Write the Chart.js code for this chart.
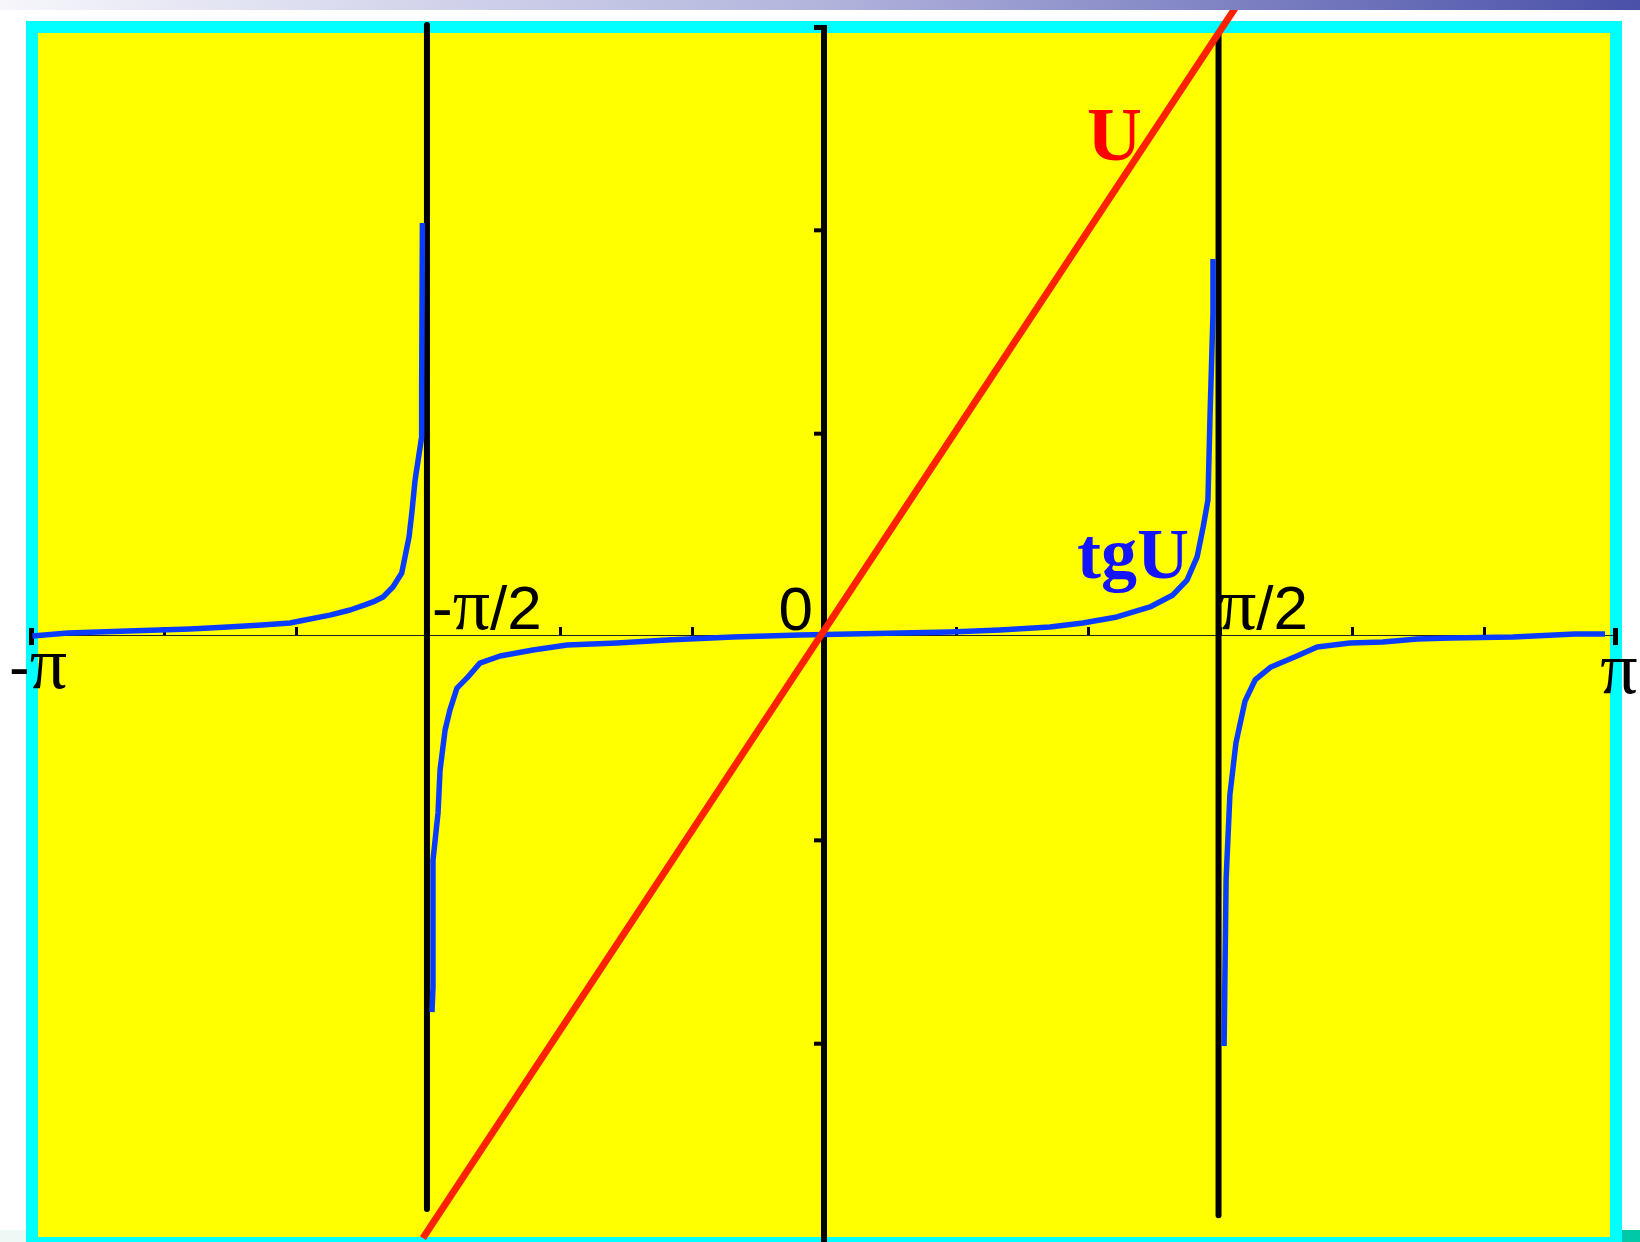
<!DOCTYPE html>
<html>
<head>
<meta charset="utf-8">
<script src="https://cdn.jsdelivr.net/npm/chart.js@4/dist/chart.umd.min.js"></script>
<style>
  html, body { margin: 0; padding: 0; background: #fff; }
  canvas { display: block; }
</style>
</head>
<body>
<canvas id="tgChart" width="1640" height="1242"></canvas>
<script>
const PI = Math.PI;

// x ticks every pi/6, labels only at the main points
const xTickSteps = [-6, -5, -4, -3, -2, -1, 0, 1, 2, 3, 4, 5, 6];
const xLabelValues = [-PI, -PI / 2, 0, PI / 2, PI];
const xLabelTexts = ['-π', '-π/2', '0', 'π/2', 'π'];
const yTickValues = [-2, -1, 1, 2, 3];

// U line
const uLine = [[-1.591, -2.966], [1.645, 3.11]];

// tgU, three branches between the asymptotes
const tgBranch1 = [
    [-3.14, -0.005], [-2.999, 0.010], [-2.761, 0.020], [-2.515, 0.030], [-2.364, 0.039],
    [-2.229, 0.049], [-2.118, 0.059], [-2.079, 0.069], [-1.960, 0.098], [-1.880, 0.123],
    [-1.821, 0.148], [-1.781, 0.167], [-1.749, 0.187], [-1.710, 0.236], [-1.675, 0.305],
    [-1.646, 0.482], [-1.635, 0.600], [-1.622, 0.762], [-1.596, 0.974], [-1.596, 1.190],
    [-1.593, 2.026]
];
const tgBranch2 = [
    [-1.555, -1.854], [-1.551, -1.731], [-1.551, -1.107], [-1.531, -0.875], [-1.523, -0.664],
    [-1.503, -0.467], [-1.484, -0.369], [-1.456, -0.261], [-1.416, -0.211], [-1.365, -0.138],
    [-1.285, -0.103], [-1.154, -0.074], [-1.019, -0.049], [-0.821, -0.039], [-0.623, -0.025],
    [-0.361, -0.010], [-0.095, 0.000], [0.103, 0.005], [0.301, 0.010], [0.500, 0.015],
    [0.698, 0.025], [0.896, 0.039], [1.027, 0.059], [1.162, 0.089], [1.293, 0.138],
    [1.384, 0.197], [1.440, 0.270], [1.480, 0.384], [1.504, 0.531], [1.523, 0.664],
    [1.531, 1.067], [1.543, 1.579], [1.543, 1.849]
];
const tgBranch3 = [
    [1.587, -2.021], [1.595, -1.200], [1.610, -0.787], [1.634, -0.531], [1.670, -0.325],
    [1.710, -0.221], [1.773, -0.157], [1.876, -0.103], [1.956, -0.059], [2.086, -0.039],
    [2.217, -0.034], [2.352, -0.020], [2.483, -0.015], [2.733, -0.010], [2.979, 0.005],
    [3.098, 0.005]
];

// vertical lines at the asymptotes
const asymLeft = [[-1.575, 3.0], [-1.575, -2.823]];
const asymRight = [[1.565, 2.95], [1.565, -2.853]];

const toXY = arr => arr.map(p => ({ x: p[0], y: p[1] }));

const SANS = '"Liberation Sans", Arial, sans-serif';
const SERIF = '"Liberation Serif", "Times New Roman", serif';

// draws a label made of pieces in different fonts (pi comes from a serif face)
function drawParts(ctx, parts, x, y, align) {
    let total = 0;
    parts.forEach(p => { ctx.font = p[1]; total += ctx.measureText(p[0]).width; });
    let cx = align === 'center' ? x - total / 2 : align === 'right' ? x - total : x;
    parts.forEach(p => {
        ctx.font = p[1];
        ctx.fillText(p[0], cx, y);
        cx += ctx.measureText(p[0]).width;
    });
}

function splitLabel(text) {
    const parts = [];
    for (const ch of text) {
        const font = ch === 'π' ? `74px ${SERIF}` : `62px ${SANS}`;
        if (parts.length && parts[parts.length - 1][1] === font) parts[parts.length - 1][0] += ch;
        else parts.push([ch, font]);
    }
    return parts;
}

const framePlugin = {
    id: 'frame',
    beforeDraw(chart) {
        const c = chart.ctx;
        c.save();
        c.fillStyle = '#ffffff';
        c.fillRect(0, 0, 1640, 1242);
        c.fillStyle = '#eef8f5';
        c.fillRect(0, 1230, 26, 12);
        c.fillStyle = '#00c9a7';
        c.fillRect(1622, 1230, 18, 12);
        c.fillStyle = '#00ffff';
        c.fillRect(26, 21, 1596, 1221);
        c.fillStyle = '#ffff00';
        c.fillRect(38, 33, 1572, 1204);
        c.restore();
    },
    beforeDatasetsDraw(chart) {
        const c = chart.ctx;
        const xs = chart.scales.x, ys = chart.scales.y;
        const y0 = ys.getPixelForValue(0);
        const x0 = xs.getPixelForValue(0);
        c.save();
        // x axis
        c.strokeStyle = '#222';
        c.lineWidth = 1;
        c.beginPath();
        c.moveTo(xs.getPixelForValue(-PI), y0 + 0.5);
        c.lineTo(xs.getPixelForValue(PI), y0 + 0.5);
        c.stroke();
        c.fillStyle = '#000';
        xTickSteps.forEach(k => {
            const px = xs.getPixelForValue(k * PI / 6);
            if (Math.abs(k) === 6) c.fillRect(px - 3, y0 - 7, 5, 17);
            else c.fillRect(px - 1, y0 - 8, 3, 8);
        });
        // y axis
        c.fillRect(x0 - 3, ys.getPixelForValue(3), 6, chart.height);
        yTickValues.forEach(v => {
            const py = ys.getPixelForValue(v);
            c.fillRect(x0 - 10, py, 8, v === 3 ? 5 : 4);
        });
        c.restore();
    },
    afterDraw(chart) {
        const c = chart.ctx;
        const xs = chart.scales.x, ys = chart.scales.y;
        const y0 = ys.getPixelForValue(0);
        c.save();
        c.fillStyle = '#000';
        c.textBaseline = 'alphabetic';
        const place = {
            '-π': [6, 53, 'center'],
            '-π/2': [4, -6, 'left'],
            '0': [-11, -5, 'right'],
            'π/2': [-1, -6, 'left'],
            'π': [3, 58, 'center']
        };
        xLabelTexts.forEach((t, i) => {
            const p = place[t];
            drawParts(c, splitLabel(t), xs.getPixelForValue(xLabelValues[i]) + p[0], y0 + p[1], p[2]);
        });
        // curve names
        c.fillStyle = '#ff0000';
        c.font = `bold 76px ${SERIF}`;
        c.fillText('U', xs.getPixelForValue(1.043), ys.getPixelForValue(2.336));
        c.fillStyle = '#1414ff';
        c.font = `bold 72px ${SERIF}`;
        c.fillText('tgU', xs.getPixelForValue(1.004), ys.getPixelForValue(0.28));
        // header strip
        const g = c.createLinearGradient(0, 0, 1640, 0);
        g.addColorStop(0, '#f6f6fb');
        g.addColorStop(0.5, '#b2b4dc');
        g.addColorStop(1, '#4a50a8');
        c.fillStyle = g;
        c.fillRect(0, 0, 1640, 10);
        c.restore();
    }
};

const lineSet = (data, color, width) => ({
    data: toXY(data),
    showLine: true,
    borderColor: color,
    borderWidth: width,
    pointRadius: 0,
    tension: 0,
    fill: false,
    clip: false,
    borderCapStyle: 'butt',
    borderJoinStyle: 'round'
});

new Chart(document.getElementById('tgChart'), {
    type: 'scatter',
    data: {
        datasets: [
            lineSet(uLine, '#ff2200', 7),
            lineSet(tgBranch1, '#0a3cff', 5.5),
            lineSet(tgBranch2, '#0a3cff', 5.5),
            lineSet(tgBranch3, '#0a3cff', 5.5),
            lineSet(asymLeft, '#000000', 6),
            lineSet(asymRight, '#000000', 6)
        ]
    },
    options: {
        responsive: false,
        animation: false,
        devicePixelRatio: 1,
        events: [],
        layout: { padding: { left: 32, right: 24, top: 25, bottom: 0 } },
        scales: {
            x: { type: 'linear', min: -PI, max: PI, display: false },
            y: { type: 'linear', min: -2.985, max: 3, display: false }
        },
        plugins: {
            legend: { display: false },
            tooltip: { enabled: false }
        }
    },
    plugins: [framePlugin]
});
</script>
</body>
</html>
